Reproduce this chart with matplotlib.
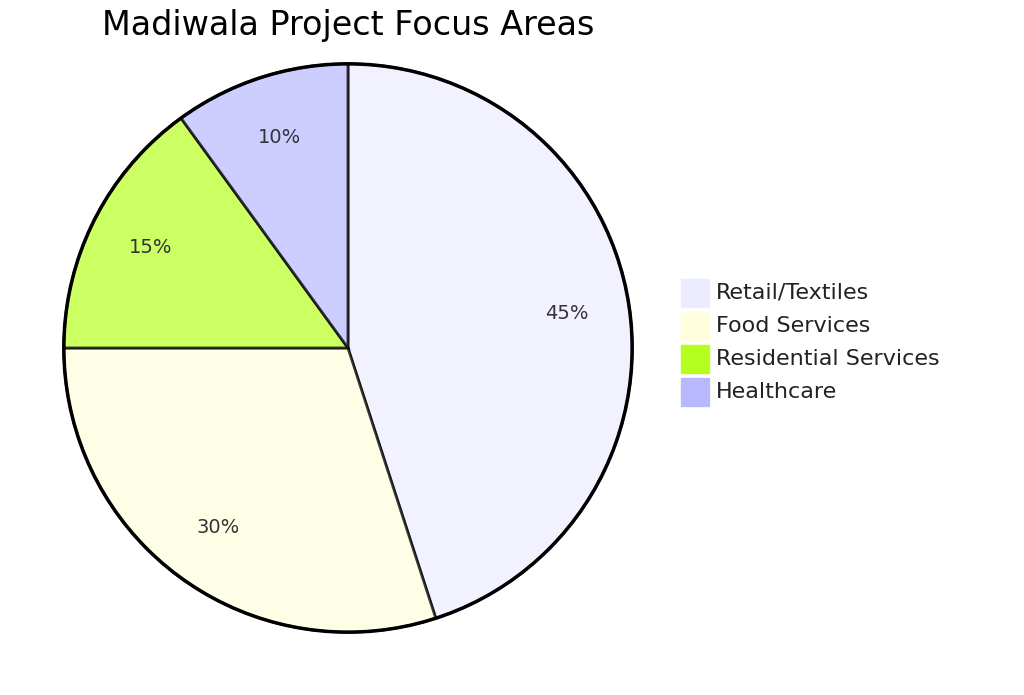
import matplotlib
matplotlib.use("Agg")
import matplotlib.pyplot as plt
from matplotlib.patches import Rectangle

labels = ["Retail/Textiles", "Food Services", "Residential Services", "Healthcare"]
values = [45, 30, 15, 10]
legend_colors = ["#ececff", "#ffffde", "#b5ff1f", "#b8b8ff"]

W, H = 1024, 695
fig = plt.figure(figsize=(W/100, H/100), dpi=100)
cx, cy, r = 348, 348, 287
ax = fig.add_axes([(cx-r)/W, (H-cy-r)/H, 2*r/W, 2*r/H])
wedges, texts, autotexts = ax.pie(values, colors=legend_colors, startangle=90, counterclock=False,
    autopct="%1.0f%%", pctdistance=0.78,
    wedgeprops=dict(edgecolor="black", linewidth=2, alpha=0.7),
    textprops=dict(fontsize=14, color="#333333"))
for w in wedges:
    w.set_edgecolor((0, 0, 0, 1))
circ = plt.Circle((0, 0), 1.0, fill=False, edgecolor="black", linewidth=2.5)
ax.add_patch(circ)
ax.set_xlim(-1.01, 1.01); ax.set_ylim(-1.01, 1.01)
ax.set_aspect("equal"); ax.axis("off")

fig.text(cx/W, 1-25/H, "Madiwala Project Focus Areas", ha="center", va="center", fontsize=24)

for i, (lab, c) in enumerate(zip(labels, legend_colors)):
    y = 293 + 33*i
    fig.patches.append(Rectangle((681/W, 1-(y+14)/H), 28/W, 28/H, transform=fig.transFigure,
                                 facecolor=c, edgecolor=c))
    fig.text(716/W, 1-y/H, lab, ha="left", va="center", fontsize=16, color="#222222")

fig.savefig("out.png", dpi=100, facecolor="white")
